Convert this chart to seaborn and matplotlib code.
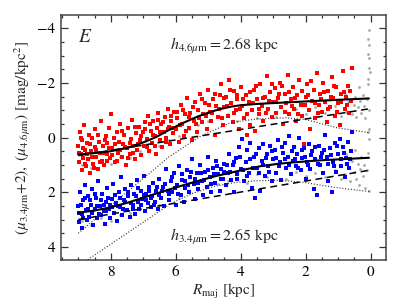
import numpy as np
import pandas as pd
import matplotlib
matplotlib.use("Agg")
import matplotlib.pyplot as plt
import seaborn as sns
from matplotlib.ticker import MultipleLocator

# radial profile points, red = 4.6um, blue = 3.4um (+2), gray = all pixels
red_r = [9.0, 8.98, 8.95, 8.93, 8.9, 8.88, 8.85, 8.82, 8.8, 8.77, 8.74, 8.7, 8.67, 8.64, 8.6, 8.57, 8.54, 8.5,
         8.47, 8.44, 8.4, 8.37, 8.33, 8.3, 8.27, 8.23, 8.2, 8.16, 8.13, 8.1, 8.06, 8.03,
         7.98, 7.95, 7.9, 7.86, 7.82, 7.78, 7.74, 7.7, 7.66, 7.62, 7.58, 7.54, 7.5, 7.46, 7.42, 7.38, 7.34, 7.3,
         7.26, 7.22, 7.18, 7.14, 7.1, 7.06, 7.02,
         6.97, 6.93, 6.89, 6.85, 6.81, 6.77, 6.73, 6.69, 6.65, 6.61, 6.57, 6.53, 6.49, 6.45, 6.41, 6.37, 6.33,
         6.29, 6.25, 6.21, 6.17, 6.13, 6.09, 6.05,
         6.0, 5.95, 5.9, 5.85, 5.8, 5.75, 5.7, 5.65, 5.6, 5.55, 5.5, 5.45, 5.4, 5.35, 5.3, 5.25, 5.2, 5.15, 5.1,
         5.05, 5.0, 4.95, 4.9, 4.85, 4.8, 4.75, 4.7, 4.65, 4.6, 4.55, 4.5,
         4.45, 4.4, 4.35, 4.3, 4.25, 4.2, 4.15, 4.1, 4.05, 4.0, 3.95, 3.9, 3.85, 3.8, 3.75, 3.7, 3.65, 3.6, 3.55,
         3.5, 3.45, 3.4, 3.35, 3.3, 3.25, 3.2, 3.15, 3.1, 3.05, 3.0,
         2.95, 2.9, 2.85, 2.8, 2.75, 2.7, 2.65, 2.6, 2.55, 2.5, 2.45, 2.4, 2.35, 2.3, 2.25, 2.2, 2.15, 2.1, 2.05,
         2.0, 1.95, 1.9, 1.85, 1.8, 1.75, 1.7, 1.65, 1.6, 1.55, 1.5, 1.45, 1.4, 1.35, 1.3, 1.25, 1.2, 1.15, 1.1,
         1.05, 1.0, 0.95, 0.9, 0.85, 0.8, 0.75, 0.7, 0.65, 0.6, 0.56] + \
        [8.99, 8.91, 8.86, 8.79, 8.72, 8.65, 8.58, 8.52, 8.45, 8.39, 8.32, 8.25, 8.18, 8.11, 8.04,
         7.96, 7.88, 7.8, 7.72, 7.64, 7.56, 7.48, 7.4, 7.32, 7.24, 7.16, 7.08,
         6.95, 6.87, 6.79, 6.71, 6.63, 6.55, 6.47, 6.39, 6.31, 6.23, 6.15, 6.07,
         5.97, 5.88, 5.78, 5.68, 5.58, 5.48, 5.38, 5.28, 5.18, 5.08, 4.98, 4.88, 4.78, 4.68, 4.58, 4.52,
         4.42, 4.32, 4.22, 4.12, 4.02, 3.92, 3.82, 3.72, 3.62, 3.52, 3.42, 3.32, 3.22, 3.12, 3.02,
         2.92, 2.82, 2.72, 2.62, 2.52, 2.42, 2.32, 2.22, 2.12, 2.02, 1.92, 1.82, 1.72, 1.62, 1.52, 1.42, 1.32,
         1.22, 1.12, 1.02, 0.92, 0.82, 0.72, 0.62]
red_mu = [0.3, 0.9, -0.2, 0.6, 1.2, 0.1, 0.75, -0.45, 0.45, 1.05, 0.2, 0.8, -0.1, 1.3, 0.5, 0.0, 0.95, 0.35,
          -0.3, 0.7, 1.15, 0.15, 0.55, -0.6, 0.85, 0.3, 1.0, -0.05, 0.6, 0.2, -0.35, 0.75,
          -0.85, 0.4, 0.0, 0.9, -0.2, 0.55, 0.15, -0.5, 0.7, 0.25, -0.1, 1.0, 0.4, -0.35, 0.6, 0.05, -0.65, 0.3,
          0.8, -0.15, 0.45, -0.4, 0.1, 0.65, -0.2,
          0.3, -0.55, 0.05, -0.8, 0.5, -0.25, 0.2, -0.6, -0.05, 0.6, -0.35, -0.9, 0.1, -0.5, 0.35, -0.2, -0.75,
          0.0, -1.05, -0.4, 0.25, -0.6, -0.15, -0.95,
          -0.3, -0.7, 0.15, -1.2, -0.5, -0.05, -0.85, -1.45, -0.35, -0.9, 0.1, -0.6, -1.3, -0.2, -1.0, -1.6, -0.55,
          -0.85, -1.25, -0.3, -1.75, -0.95, -0.6, -1.4, -0.1, -1.15, -0.75, -1.55, -1.95, -0.45, -1.1,
          -1.5, -0.8, -2.1, -1.25, -0.55, -1.7, -1.0, -1.4, -0.3, -1.85, -1.15, -0.7, -1.55, -0.1, -1.3, -0.45,
          -1.0, -1.75, -0.25, -1.4, -0.85, -1.95, -1.15, -0.6, -1.5, -2.25, -1.05, -1.65, -0.75, -1.3,
          -1.8, -0.9, -1.45, -2.0, -1.1, -0.5, -1.6, -1.25, -2.3, -0.85, -1.4, -1.85, -1.05, -0.6, -1.55, -2.1,
          -1.2, -0.8, 0.25, -1.5, -1.95, -1.0, -0.3, -1.35, -1.75, -0.7, -2.35, -1.2, -1.6, -0.95, -2.0, -1.3,
          -0.55, -1.7, -1.1, -2.2, -1.45, -0.8, -1.85, -1.25, -0.45, -1.6, -2.45, -1.05, -1.5, -1.9, -0.9, -1.35,
          -2.55] + \
         [0.55, 0.0, 0.4, 0.95, 0.6, 0.25, 0.7, 1.1, 0.45, -0.1, 0.9, 0.55, 0.1, 0.85, 0.4,
          0.65, 0.25, 0.85, 0.45, -0.25, 0.35, 0.75, 0.2, 0.55, -0.4, 0.25, -0.05,
          -0.3, 0.35, -0.5, -0.1, 0.3, -0.65, -0.2, -0.55, 0.15, -0.3, -0.8, -0.35,
          -0.95, -0.45, -1.0, -0.25, -0.75, -1.1, -0.5, -0.7, -1.4, -0.8, -1.2, -0.9, -1.6, -1.05, -0.7, -1.45,
          -1.15, -1.75, -0.9, -1.55, -1.05, -1.4, -0.85, -1.65, -1.25, -1.9, -1.05, -1.45, -0.9, -1.35, -1.95,
          -1.3, -1.6, -1.9, -0.95, -1.65, -1.15, -1.45, -0.85, -1.7, -1.2, -1.55, -2.05, -1.25, -0.9, -1.4, -1.65,
          -1.05, -1.5, -1.9, -0.95, -1.3, -1.65, -1.2, -1.7]

blue_r = [9.0, 8.97, 8.94, 8.9, 8.87, 8.84, 8.8, 8.77, 8.74, 8.7, 8.66, 8.62, 8.58, 8.54, 8.5, 8.46, 8.42,
          8.38, 8.34, 8.3, 8.26, 8.22, 8.18, 8.14, 8.1, 8.06, 8.02,
          7.97, 7.93, 7.89, 7.85, 7.8, 7.76, 7.72, 7.68, 7.64, 7.6, 7.55, 7.5, 7.46, 7.42, 7.38, 7.33, 7.29, 7.25,
          7.2, 7.16, 7.12, 7.08, 7.03, 6.99, 6.95, 6.9, 6.86, 6.82, 6.77, 6.73, 6.69, 6.64, 6.6, 6.55,
          6.5, 6.45, 6.4, 6.35, 6.3, 6.25, 6.2, 6.15, 6.1, 6.05, 6.0, 5.95, 5.9, 5.85, 5.8, 5.75, 5.7, 5.65, 5.6,
          5.55, 5.5, 5.45, 5.4, 5.35, 5.3, 5.25, 5.2, 5.15, 5.1, 5.05, 5.0, 4.95, 4.9, 4.85, 4.8, 4.75, 4.7, 4.65,
          4.6, 4.55,
          4.5, 4.45, 4.4, 4.35, 4.3, 4.25, 4.2, 4.15, 4.1, 4.05, 4.0, 3.95, 3.9, 3.85, 3.8, 3.75, 3.7, 3.65, 3.6,
          3.55, 3.5, 3.45, 3.4, 3.35, 3.3, 3.25, 3.2, 3.15, 3.1, 3.05, 3.0,
          2.95, 2.9, 2.85, 2.8, 2.75, 2.7, 2.65, 2.6, 2.55, 2.5, 2.45, 2.4, 2.35, 2.3, 2.25, 2.2, 2.15, 2.1, 2.05,
          2.0, 1.95, 1.9, 1.85, 1.8, 1.75, 1.7, 1.65, 1.6, 1.55, 1.5, 1.45, 1.4, 1.35, 1.3, 1.25, 1.2, 1.15, 1.1,
          1.05, 1.0, 0.95, 0.9, 0.85, 0.8, 0.75, 0.7, 0.65, 0.6, 0.56] + \
         [8.99, 8.92, 8.85, 8.78, 8.71, 8.64, 8.57, 8.5, 8.43, 8.36, 8.29, 8.22, 8.15, 8.08, 8.01,
          7.95, 7.87, 7.79, 7.71, 7.63, 7.55, 7.47, 7.39, 7.31, 7.23, 7.15, 7.07, 6.99, 6.91, 6.83, 6.75, 6.67,
          6.59, 6.52,
          6.42, 6.32, 6.22, 6.12, 6.02, 5.92, 5.82, 5.72, 5.62, 5.52, 5.42, 5.32, 5.22, 5.12, 5.02, 4.92, 4.82,
          4.72, 4.62, 4.52,
          4.42, 4.32, 4.22, 4.12, 4.02, 3.92, 3.82, 3.72, 3.62, 3.52, 3.42, 3.32, 3.22, 3.12, 3.02,
          2.92, 2.82, 2.72, 2.62, 2.52, 2.42, 2.32, 2.22, 2.12, 2.02, 1.92, 1.82, 1.72, 1.62, 1.52, 1.42, 1.32,
          1.22, 1.12, 1.02, 0.92, 0.82, 0.72, 0.62]
blue_mu = [2.5, 3.1, 2.0, 2.8, 3.3, 2.3, 1.75, 2.65, 3.0, 2.15, 2.9, 2.45, 1.9, 3.2, 2.6, 2.2, 2.95,
           1.6, 2.5, 2.85, 2.05, 2.7, 3.15, 2.35, 1.85, 2.6, 2.95,
           2.25, 1.7, 2.75, 2.4, 3.05, 2.0, 2.55, 1.45, 2.85, 2.3, 1.9, 2.65, 2.15, 2.9, 1.75, 2.45, 2.05, 2.8,
           1.55, 2.35, 2.6, 1.95, 2.25, 1.4, 2.7, 2.05, 2.4, 1.8, 2.55, 2.15, 1.65, 2.35, 1.95, 2.6,
           1.5, 2.2, 1.8, 2.5, 1.15, 1.95, 2.3, 1.6, 2.0, 1.3, 2.45, 1.75, 1.05, 2.1, 1.55, 2.35, 1.85, 1.2, 2.0,
           1.45, 0.8, 1.7, 2.25, 1.3, 1.9, 1.0, 1.6, 2.1, 1.25, 1.8, 0.7, 1.45, 2.0, 1.1, 1.65, 0.85, 1.35, 1.95,
           1.15, 1.5,
           0.95, 1.75, 1.3, 0.6, 1.55, 1.0, 2.0, 0.75, 1.35, 0.35, 1.15, 0.05, 1.6, 0.9, 0.45, 1.3, 0.2, 1.85, 0.7,
           2.2, 1.1, 0.4, 1.95, 0.85, 0.25, 1.4, 0.6, 1.05, 0.3, 1.6, 0.8,
           0.45, 1.3, 0.1, 0.9, 1.55, 0.55, 0.2, 1.1, 0.7, -0.05, 1.35, 0.85, 0.35, 1.05, 0.6, 0.0, 1.2, 0.75, 0.4,
           1.5, 0.9, 0.25, 1.15, 0.5, 1.9, 0.8, 2.1, 0.3, 1.0, 0.55, 1.3, -0.1, 0.7, 1.6, 0.4, 2.0, 0.9, 0.2,
           1.25, 0.6, 0.05, 1.05, 0.35, 1.45, 0.75, 0.15, 1.1, 0.5, -0.2] + \
          [2.75, 2.45, 2.95, 2.2, 2.6, 2.3, 2.75, 2.05, 2.5, 2.8, 2.3, 2.45, 2.7, 2.2, 2.45,
           2.55, 2.1, 2.5, 2.2, 2.6, 2.35, 2.0, 2.4, 2.6, 2.15, 1.85, 2.45, 2.1, 2.3, 1.95, 2.2, 2.45, 1.8, 2.1,
           1.95, 1.7, 2.05, 1.45, 1.85, 2.05, 1.35, 1.6, 1.75, 1.25, 1.5, 1.65, 1.3, 1.55, 1.2, 1.7, 1.35, 1.05,
           1.5, 1.25,
           1.0, 1.25, 0.9, 1.5, 0.7, 1.2, 1.4, 0.8, 1.1, 0.6, 1.3, 1.0, 0.75, 1.25, 0.5,
           0.75, 1.05, 0.35, 0.8, 1.0, 0.5, 0.8, 1.1, 0.45, 0.7, 1.0, 0.65, 0.35, 0.95, 0.7, 0.45, 0.95, 0.65,
           1.05, 0.3, 0.8, 0.55, 0.95, 0.8]

gray_r = [8.9, 8.6, 8.3, 8.0, 7.7, 7.4, 7.1, 6.8, 6.5, 6.2, 5.9, 5.6, 5.3, 5.0, 4.7, 4.4, 4.1, 3.8, 3.5, 3.2,
          2.9, 2.6, 2.3, 2.0, 1.7, 1.4, 1.1, 0.9,
          0.8, 0.75, 0.7, 0.62, 0.58, 0.52, 0.48, 0.44, 0.4, 0.36, 0.32, 0.28, 0.24, 0.2, 0.16, 0.12, 0.08, 0.06,
          0.05, 0.07, 0.04, 0.08, 0.05, 0.06, 0.03, 0.08, 0.05, 0.06, 0.07,
          8.9, 8.6, 8.3, 8.0, 7.7, 7.4, 7.1, 6.8, 6.5, 6.2, 5.9, 5.6, 5.3, 5.0, 4.7, 4.4, 4.1, 3.8, 3.5, 3.2,
          2.9, 2.6, 2.3, 2.0, 1.7, 1.4, 1.1, 0.9,
          0.8, 0.75, 0.7, 0.62, 0.58, 0.52, 0.48, 0.44, 0.4, 0.36, 0.32, 0.28, 0.24, 0.2, 0.16, 0.12, 0.08, 0.06]
gray_mu = [1.0, 1.1, 0.9, 0.95, 0.7, 0.75, 0.5, 0.45, 0.3, 0.1, -0.05, -0.3, -0.45, -0.6, -0.75, -0.85, -0.6,
           -0.9, -0.7, -1.0, -0.75, -0.95, -1.05, -0.85, -1.1, -0.9, -1.15, -0.8,
           -1.6, -0.95, -1.3, -1.75, -0.85, -1.2, -1.5, -0.75, -1.1, -1.85, -1.35, -0.9, -1.55, -1.15, -0.7, -1.4,
           -1.95, -1.0,
           -3.95, -3.6, -3.4, -3.05, -2.9, -2.55, -2.4, -2.15, -0.3, 0.05, -0.2,
           3.05, 3.2, 2.95, 3.05, 2.85, 2.75, 2.6, 2.55, 2.45, 2.25, 2.2, 2.0, 1.85, 1.75, 1.7, 1.6, 1.5, 1.65,
           1.35, 1.45, 1.3, 1.5, 1.25, 1.4, 1.3, 1.45, 1.2, 1.5,
           1.35, 0.6, 1.1, 1.6, 0.85, 1.25, 0.45, 1.5, 0.95, 1.75, 1.15, 0.7, 1.4, 1.0, 1.85, 1.2, 0.55, 1.95]

# model components: total (solid), inner component (dashed), disk (dotted)
red_total_r = [9.0, 8.5, 8.0, 7.5, 7.0, 6.6, 6.2, 5.8, 5.3, 4.9, 4.6, 4.3, 4.0, 3.5, 3.0, 2.0, 1.0, 0.05]
red_total = [0.62, 0.57, 0.5, 0.38, 0.18, -0.02, -0.28, -0.52, -0.78, -0.95, -1.05, -1.13, -1.18, -1.23,
             -1.26, -1.32, -1.38, -1.43]
red_dash_r = [9.0, 0.05]
red_dash = [0.66, -1.05]
red_dot_r = [9.0, 7.5, 6.2, 5.25, 4.3, 3.5, 2.6, 2.0, 1.5, 1.0, 0.05]
red_dot = [3.5, 2.0, 0.7, -0.04, -0.55, -0.68, -0.72, -0.66, -0.5, -0.35, -0.18]

blue_total_r = [9.0, 8.5, 8.0, 7.5, 7.0, 6.6, 6.2, 5.5, 4.8, 4.1, 3.4, 2.9, 2.5, 1.5, 0.05]
blue_total = [2.75, 2.67, 2.55, 2.39, 2.2, 2.05, 1.9, 1.65, 1.42, 1.23, 1.05, 0.97, 0.92, 0.83, 0.74]
blue_dash_r = [9.0, 0.05]
blue_dash = [3.0, 1.2]
blue_dot_r = [9.0, 8.0, 7.0, 6.2, 5.5, 4.8, 4.2, 3.5, 2.8, 2.0, 1.5, 0.8, 0.05]
blue_dot = [4.7, 3.9, 3.1, 2.45, 2.05, 1.78, 1.65, 1.58, 1.56, 1.65, 1.75, 1.87, 1.97]

sns.set_style("ticks")
plt.rcParams["font.family"] = ["STIXGeneral", "DejaVu Serif"]
plt.rcParams["mathtext.fontset"] = "stix"

fig = plt.figure(figsize=(4.07, 3.07), dpi=100)
ax = fig.add_axes([0.150, 0.153, 0.798, 0.798])

sns.scatterplot(x=gray_r, y=gray_mu, color="#a8a8a8", s=4, linewidth=0, ax=ax, zorder=1)
sns.scatterplot(x=red_r, y=red_mu, color="#ff0000", s=9, marker="s", linewidth=0, ax=ax, zorder=2)
sns.scatterplot(x=blue_r, y=blue_mu, color="#0000ff", s=9, marker="s", linewidth=0, ax=ax, zorder=2)

for r, mu in [(red_total_r, red_total), (blue_total_r, blue_total)]:
    sns.lineplot(x=r, y=mu, color="k", lw=1.5, sort=False, estimator=None, ax=ax, zorder=4)
for r, mu in [(red_dash_r, red_dash), (blue_dash_r, blue_dash)]:
    sns.lineplot(x=r, y=mu, color="k", lw=1.1, sort=False, estimator=None, ax=ax,
                 zorder=4).lines[-1].set_dashes((4.5, 3))
for r, mu in [(red_dot_r, red_dot), (blue_dot_r, blue_dot)]:
    sns.lineplot(x=r, y=mu, color="#333333", lw=0.9, sort=False, estimator=None, ax=ax,
                 zorder=3).lines[-1].set_dashes((0.8, 1.5))

ax.set_xlim(9.53, -0.47)
ax.set_ylim(4.48, -4.48)
ax.set_xticks([8, 6, 4, 2, 0])
ax.set_yticks([-4, -2, 0, 2, 4])
ax.set_yticklabels(["\u22124", "\u22122", "0", "2", "4"])
ax.xaxis.set_minor_locator(MultipleLocator(0.5))
ax.yaxis.set_minor_locator(MultipleLocator(0.5))
ax.tick_params(which="both", direction="in", top=True, right=True, colors="#333333",
               labelcolor="k", labelsize=11, width=0.9)
ax.tick_params(which="major", length=5, pad=4)
ax.tick_params(which="minor", length=2.5)
for sp in ax.spines.values():
    sp.set_color("#444444")
    sp.set_linewidth(1.1)

ax.set_xlabel(r"$R_{\rm maj}$ [kpc]", fontsize=11, labelpad=2)
ax.set_ylabel(r"$(\mu_{3.4\mu{\rm m}}\!+\!2),\ (\mu_{4.6\mu{\rm m}})$ [mag/kpc$^2$]", fontsize=11, labelpad=3)

ax.text(9.0, -3.7, "E", fontsize=14, fontstyle="italic", ha="left", va="center")
ax.text(4.5, -3.33, r"$h_{4.6\mu{\rm m}} = 2.68$ kpc", fontsize=11.5, ha="center", va="center")
ax.text(4.5, 3.65, r"$h_{3.4\mu{\rm m}} = 2.65$ kpc", fontsize=11.5, ha="center", va="center")

fig.savefig("out.png", dpi=100)
